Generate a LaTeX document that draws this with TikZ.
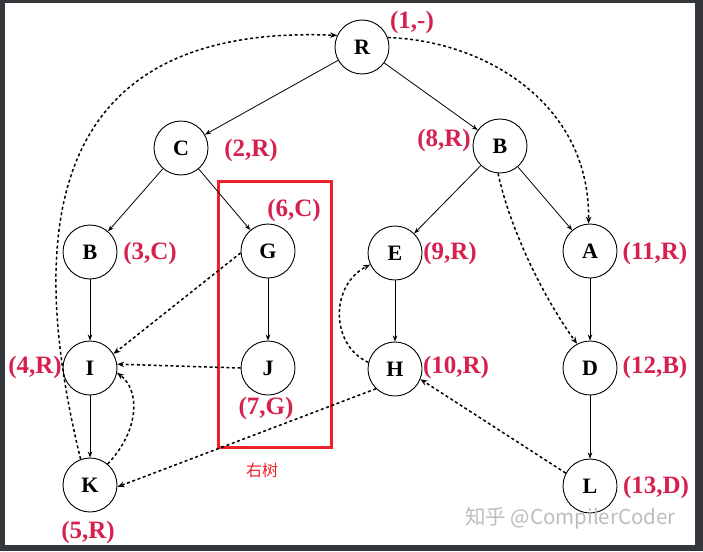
\documentclass[tikz,border=0pt]{standalone}
\usepackage{fontspec}
\setmainfont{Liberation Serif}
\newfontfamily\cjk{Noto Sans CJK SC}
\usetikzlibrary{arrows.meta}

\definecolor{frame}{HTML}{34383C}
\definecolor{lbl}{HTML}{D6204E}
\definecolor{boxred}{HTML}{EC2227}
\definecolor{mark}{HTML}{BDBDBD}

\begin{document}
\begin{tikzpicture}[x=1pt,y=-1pt,
  vertex/.style={circle, draw, line width=0.9pt, minimum size=54pt, inner sep=0pt,
                 font=\bfseries\fontsize{22}{22}\selectfont},
  tag/.style={text=lbl, inner sep=0pt, font=\bfseries\fontsize{25}{25}\selectfont},
  tree/.style={-{Stealth[length=6pt,width=4.5pt]}, line width=0.8pt},
  back/.style={-{Stealth[length=7pt,width=5.5pt]}, line width=1.5pt,
               dash pattern=on 3pt off 2.6pt},
]
% canvas and frame
\fill[frame] (0,0) rectangle (703,551);
\fill[white] (5,3) rectangle (695,545);

% vertices
\node[vertex] (R)  at (362,47)  {R};
\node[vertex] (C)  at (181,148) {C};
\node[vertex] (B2) at (500,146) {B};
\node[vertex] (B1) at (90,252)  {B};
\node[vertex] (G)  at (268,251) {G};
\node[vertex] (E)  at (395,253) {E};
\node[vertex] (A)  at (590,251) {A};
\node[vertex] (I)  at (90,368)  {I};
\node[vertex] (J)  at (268,368) {J};
\node[vertex] (H)  at (395,369) {H};
\node[vertex] (D)  at (590,368) {D};
\node[vertex] (K)  at (90,485)  {K};
\node[vertex] (L)  at (590,486) {L};

% (order, semi-dominator) labels
\node[tag] (tR) at (412,22)  {(1,-)};
\node[tag] (tC) at (251,150) {(2,R)};
\node[tag] (tB1) at (150,253) {(3,C)};
\node[tag] (tI) at (35,367)  {(4,R)};
\node[tag] (tK) at (88,532)  {(5,R)};
\node[tag] (tG) at (294,210) {(6,C)};
\node[tag] (tJ) at (266,408) {(7,G)};
\node[tag] (tB2) at (444,140) {(8,R)};
\node[tag] (tE) at (450,253) {(9,R)};
\node[tag] (tH) at (456,367) {(10,R)};
\node[tag] (tA) at (655,253) {(11,R)};
\node[tag] (tD) at (655,367) {(12,B)};
\node[tag] (tL) at (656,487) {(13,D)};

% subtree frame
\draw[boxred, line width=3pt] (218,181) rectangle (331,447);
\node[text=boxred, font=\cjk\fontsize{16}{16}\selectfont, inner sep=0pt] (sub) at (262,470) {右树};

% spanning tree edges
\draw[tree] (R) -- (C);
\draw[tree] (R) -- (B2);
\draw[tree] (C) -- (B1);
\draw[tree] (C) -- (G);
\draw[tree] (B2) -- (E);
\draw[tree] (B2) -- (A);
\draw[tree] (B1) -- (I);
\draw[tree] (G) -- (J);
\draw[tree] (E) -- (H);
\draw[tree] (A) -- (D);
\draw[tree] (D) -- (L);
\draw[tree] (I) -- (K);

% non-tree edges
\draw[back] (K.110) .. controls (10,170) and (90,25) .. (R.155);
\draw[back] (K.50) .. controls (140,430) and (140,390) .. (I.-10);
\draw[back] (G.184) -- (I.31);
\draw[back] (J.180) -- (I.8);
\draw[back] (H.-134) -- (K.-4);
\draw[back] (H.166) .. controls (330,345) and (330,285) .. (E.205);
\draw[back] (L.152) -- (H.-22);
\draw[back] (R.20) .. controls (480,40) and (590,100) .. (A.93);
\draw[back] (B2.-94) .. controls (510,230) and (545,300) .. (D.118);

% watermark
\node[anchor=west, text=mark, inner sep=0pt, font=\cjk\fontsize{20.5}{20.5}\selectfont] (wm) at (465,518) {知乎 @CompilerCoder};
\end{tikzpicture}
\end{document}
